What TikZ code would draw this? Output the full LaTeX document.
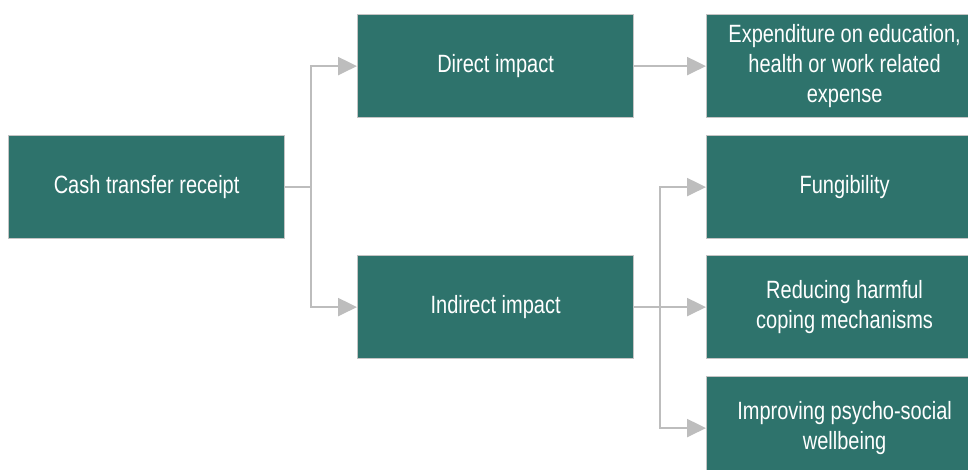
\documentclass[tikz,border=0pt]{standalone}
\usepackage{fontspec}
\setmainfont{Liberation Sans}[FakeStretch=0.8]
\usetikzlibrary{arrows.meta}
\definecolor{boxgreen}{HTML}{2E736C}
\definecolor{boxedge}{HTML}{C4C4C4}
\definecolor{linkgray}{HTML}{BDBDBD}
\begin{document}
\begin{tikzpicture}[x=1pt,y=-1pt,
  box/.style={draw=boxedge,line width=1.2pt,fill=boxgreen,text=white,
    minimum width=276pt,minimum height=103pt,inner sep=0pt,
    align=center,font=\fontsize{25}{30}\selectfont,anchor=north west},
  link/.style={draw=linkgray,line width=2.2pt},
  arr/.style={link,-{Triangle[length=19pt,width=18pt]}}]
\useasboundingbox (0,0) rectangle (968,470);
\clip (0,0) rectangle (968,470);
\node[box] (cash) at (8,135) {Cash transfer receipt};
\node[box] (direct) at (357,14) {Direct impact};
\node[box] (indirect) at (357,255) {Indirect impact};
\node[box] (exp) at (706,14) {Expenditure on education,\\health or work related\\expense};
\node[box] (fung) at (706,135) {Fungibility};
\node[box] (red) at (706,255) {Reducing harmful\\coping mechanisms};
\node[box] (imp) at (706,376) {Improving psycho-social\\wellbeing};
\coordinate (s1) at ([xshift=26pt]cash.east);
\coordinate (s2) at ([xshift=26pt]indirect.east);
\draw[link] (cash.east) -- (s1);
\draw[arr] (s1) |- (direct.west);
\draw[arr] (s1) |- (indirect.west);
\draw[arr] (direct.east) -- (exp.west);
\draw[arr] (indirect.east) -- (red.west);
\draw[arr] (s2) |- (fung.west);
\draw[arr] (s2) |- (imp.west);
\end{tikzpicture}
\end{document}
